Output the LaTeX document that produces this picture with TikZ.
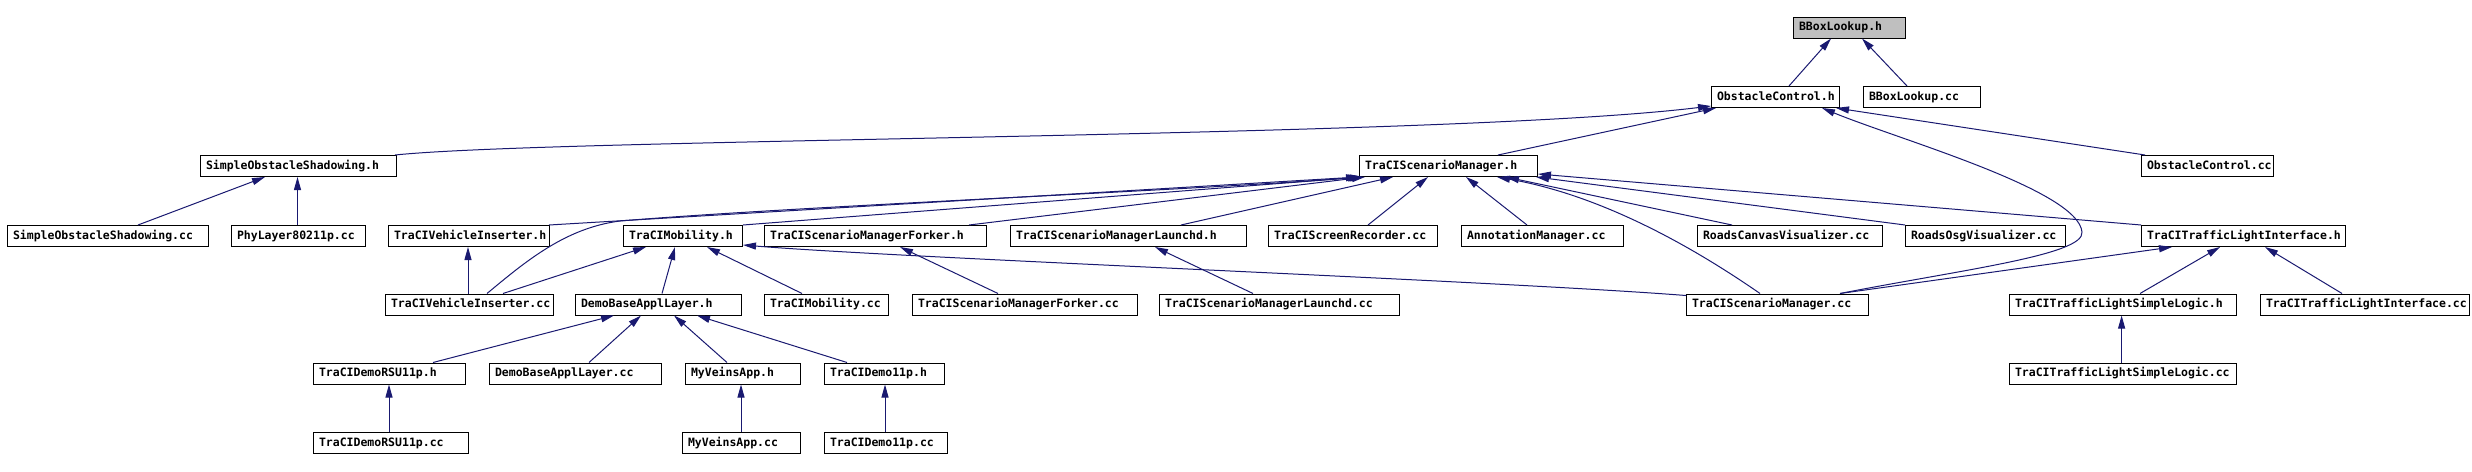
\documentclass[tikz,border=0pt]{standalone}
\usepackage{fontspec}
\newfontfamily\graphfont{DejaVu Sans Mono}
\newcommand\filefont{\graphfont\bfseries\fontsize{11.5pt}{13pt}\selectfont\hyphenpenalty=10000\relax}
\usetikzlibrary{
  arrows.meta
}
\definecolor{edgeblue}{RGB}{25,25,112}
\definecolor{rootgray}{RGB}{191,191,191}
\tikzset{
  file/.style={
    draw=black,
    line width=1pt,
    fill=white,
    anchor=west,
    align=left,
    font=\filefont,
    inner xsep=5.5pt,
    inner ysep=2pt,
    minimum height=21pt,
    text height=8.5pt,
    text depth=2.5pt
  },
  root/.style={
    file,
    fill=rootgray
  },
  dep/.style={
    -{Triangle[length=13pt,width=7pt]},
    line width=1pt,
    draw=edgeblue
  }
}

\begin{document}
\begin{tikzpicture}[x=1pt,y=-1pt]
\useasboundingbox (0,0) rectangle (2472,471);

% Header under inspection and its direct includers.
\node[root, text width=101pt] (bboxh) at (1793,27.5) {BBoxLookup.h};
\node[file, text width=117pt] (ocH) at (1711,97) {ObstacleControl.h};
\node[file, text width=106pt] (bboxcc) at (1863,97) {BBoxLookup.cc};

% Third row.
\node[file, text width=185pt] (sosH) at (200,166) {SimpleObstacleShadowing.h};
\node[file, text width=167pt] (tsmH) at (1359,166) {TraCIScenarioManager.h};
\node[file, text width=121pt] (occc) at (2141,166) {ObstacleControl.cc};

% Fourth row.
\node[file, text width=190pt] (soscc) at (7,236) {SimpleObstacleShadowing.cc};
\node[file, text width=123pt] (phycc) at (231,236) {PhyLayer80211p.cc};
\node[file, text width=150pt] (tviH) at (388,236) {TraCIVehicleInserter.h};
\node[file, text width=108pt] (tmH) at (623,236) {TraCIMobility.h};
\node[file, text width=211pt] (forkH) at (764,236) {TraCIScenarioManagerForker.h};
\node[file, text width=225pt] (launchH) at (1010,236) {TraCIScenarioManagerLaunchd.h};
\node[file, text width=158pt] (recordcc) at (1268,236) {TraCIScreenRecorder.cc};
\node[file, text width=151pt] (annotcc) at (1461,236) {AnnotationManager.cc};
\node[file, text width=174pt] (canvascc) at (1697,236) {RoadsCanvasVisualizer.cc};
\node[file, text width=149pt] (osgcc) at (1905,236) {RoadsOsgVisualizer.cc};
\node[file, text width=193pt] (tliH) at (2141,236) {TraCITrafficLightInterface.h};

% Fifth row.
\node[file, text width=157pt] (tvicc) at (385,304.5) {TraCIVehicleInserter.cc};
\node[file, text width=155pt] (dbaH) at (575,304.5) {DemoBaseApplLayer.h};
\node[file, text width=113pt] (tmcc) at (764,304.5) {TraCIMobility.cc};
\node[file, text width=214pt] (forkcc) at (912,304.5) {TraCIScenarioManagerForker.cc};
\node[file, text width=229pt] (launchcc) at (1159,304.5) {TraCIScenarioManagerLaunchd.cc};
\node[file, text width=171pt] (tsmcc) at (1686,304.5) {TraCIScenarioManager.cc};
\node[file, text width=216pt] (tlslH) at (2009,304.5) {TraCITrafficLightSimpleLogic.h};
\node[file, text width=198pt] (tlicc) at (2260,304.5) {TraCITrafficLightInterface.cc};

% Sixth row.
\node[file, text width=141pt] (rsuH) at (313,373.5) {TraCIDemoRSU11p.h};
\node[file, text width=161pt] (dbacc) at (489,373.5) {DemoBaseApplLayer.cc};
\node[file, text width=104pt] (mvaH) at (685,373.5) {MyVeinsApp.h};
\node[file, text width=109pt] (demoH) at (824,373.5) {TraCIDemo11p.h};
\node[file, text width=216pt] (tlslcc) at (2009,373.5) {TraCITrafficLightSimpleLogic.cc};

% Bottom row.
\node[file, text width=144pt] (rsucc) at (313,443) {TraCIDemoRSU11p.cc};
\node[file, text width=107pt] (mvacc) at (682,443) {MyVeinsApp.cc};
\node[file, text width=112pt] (democc) at (824,443) {TraCIDemo11p.cc};

% Into BBoxLookup.h.
\draw[dep] ([xshift=78pt]ocH.north west) -- ([xshift=38pt]bboxh.south west);
\draw[dep] ([xshift=44pt]bboxcc.north west) -- ([xshift=69pt]bboxh.south west);

% Into ObstacleControl.h.
\draw[dep] ([xshift=-2pt]sosH.north east) .. controls (560,138) and (1450,138) .. ([yshift=2pt]ocH.south west);
\draw[dep] ([xshift=139pt]tsmH.north west) -- ([xshift=5pt]ocH.south west);
\draw[dep] ([xshift=154pt]tsmcc.north west) .. controls (1960,270) and (2085,255) .. (2082,232)
  .. controls (2078,190) and (1900,140) .. ([xshift=111pt]ocH.south west);
\draw[dep] ([xshift=4pt]occc.north west) -- ([xshift=125pt]ocH.south west);

% Into SimpleObstacleShadowing.h.
\draw[dep] ([xshift=131pt]soscc.north west) -- ([xshift=65pt]sosH.south west);
\draw[dep] ([xshift=66.5pt]phycc.north west) -- ([xshift=97.5pt]sosH.south west);

% Into TraCIScenarioManager.h.
\draw[dep] ([xshift=-1pt]tviH.north east) -- (tsmH.south west);
\draw[dep] ([xshift=102pt]tvicc.north west) .. controls (525,262) and (565,228) .. (620,221)
  .. controls (800,206) and (1200,190) .. ([xshift=2pt]tsmH.south west);
\draw[dep] (tmH.north east) -- ([xshift=4pt]tsmH.south west);
\draw[dep] ([xshift=205pt]forkH.north west) -- ([xshift=6pt]tsmH.south west);
\draw[dep] ([xshift=171pt]launchH.north west) -- ([xshift=34pt]tsmH.south west);
\draw[dep] ([xshift=100pt]recordcc.north west) -- ([xshift=69pt]tsmH.south west);
\draw[dep] ([xshift=66pt]annotcc.north west) -- ([xshift=107pt]tsmH.south west);
\draw[dep] ([xshift=74pt]tsmcc.north west) .. controls (1690,245) and (1600,195) .. ([xshift=138pt]tsmH.south west);
\draw[dep] ([xshift=35pt]canvascc.north west) -- ([xshift=147pt]tsmH.south west);
\draw[dep] (osgcc.north west) -- ([xshift=-2pt]tsmH.south east);
\draw[dep] (tliH.north west) -- ([yshift=3pt]tsmH.south east);

% Into TraCIMobility.h.
\draw[dep] ([xshift=118pt]tvicc.north west) -- ([xshift=23pt]tmH.south west);
\draw[dep] ([xshift=87pt]dbaH.north west) -- ([xshift=52pt]tmH.south west);
\draw[dep] ([xshift=38pt]tmcc.north west) -- ([xshift=84pt]tmH.south west);
\draw[dep] ([yshift=-2pt]tsmcc.north west) .. controls (1500,281) and (900,258) .. ([yshift=2pt]tmH.south east);

% Into DemoBaseApplLayer.h.
\draw[dep] ([xshift=120pt]rsuH.north west) -- ([xshift=39pt]dbaH.south west);
\draw[dep] ([xshift=100pt]dbacc.north west) -- ([xshift=66pt]dbaH.south west);
\draw[dep] ([xshift=42pt]mvaH.north west) -- ([xshift=99pt]dbaH.south west);
\draw[dep] ([xshift=23pt]demoH.north west) -- ([xshift=122pt]dbaH.south west);

% Into TraCITrafficLightInterface.h.
\draw[dep] ([xshift=131pt]tlslH.north west) -- ([xshift=79pt]tliH.south west);
\draw[dep] ([xshift=82pt]tlicc.north west) -- ([xshift=124pt]tliH.south west);
\draw[dep] ([xshift=154pt]tsmcc.north west) -- ([xshift=31pt]tliH.south west);

% Single includers.
\draw[dep] ([xshift=83pt]tvicc.north west) -- ([xshift=80pt]tviH.south west);
\draw[dep] ([xshift=86pt]forkcc.north west) -- ([xshift=136pt]forkH.south west);
\draw[dep] ([xshift=94pt]launchcc.north west) -- ([xshift=145pt]launchH.south west);
\draw[dep] ([xshift=76pt]rsucc.north west) -- ([xshift=76pt]rsuH.south west);
\draw[dep] ([xshift=59pt]mvacc.north west) -- ([xshift=56pt]mvaH.south west);
\draw[dep] ([xshift=61pt]democc.north west) -- ([xshift=61pt]demoH.south west);
\draw[dep] ([xshift=112.6pt]tlslcc.north west) -- ([xshift=112.6pt]tlslH.south west);

\end{tikzpicture}
\end{document}
